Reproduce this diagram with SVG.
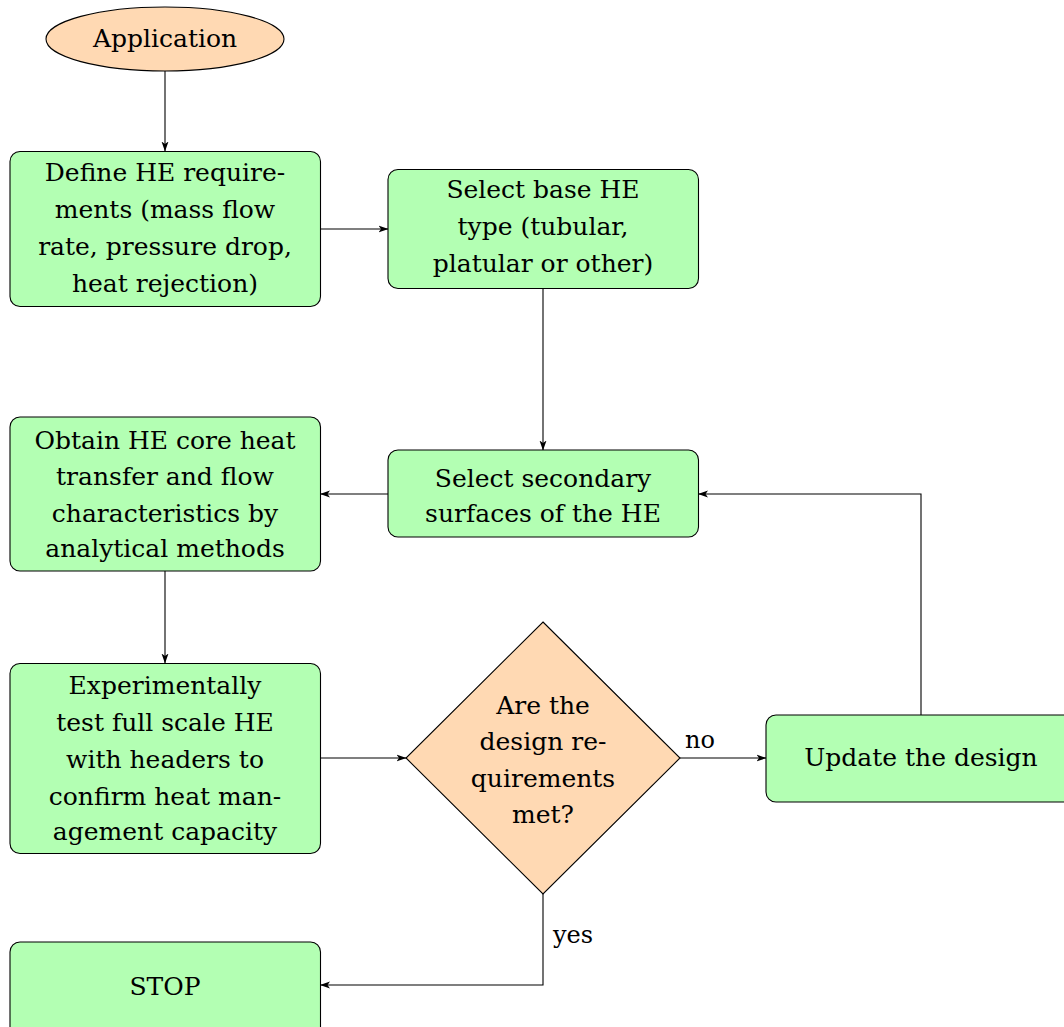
<svg xmlns="http://www.w3.org/2000/svg" width="1064" height="1027" viewBox="0 0 1064 1027">
<style>
  .box { fill: #b3ffb3; stroke: #000; stroke-width: 1.1; }
  .dec { fill: #ffd9b3; stroke: #000; stroke-width: 1.1; }
  text { font-family: 'DejaVu Serif', 'Liberation Serif', serif; fill: #000; }
  .t { font-size: 25px; text-anchor: middle; }
  .lbl { font-size: 24px; }
  .edge { fill: none; stroke: #000; stroke-width: 1.1; marker-end: url(#arr); }
</style>
<defs>
  <marker id="arr" viewBox="0 0 10 8" refX="9.5" refY="4" markerWidth="10" markerHeight="8" markerUnits="userSpaceOnUse" orient="auto">
    <path d="M0,0.5 L10,4 L0,7.5 L2.5,4 Z" fill="#000"/>
  </marker>
</defs>
<rect width="1064" height="1027" fill="#fff"/>

<g id="connectors">
  <path class="edge" d="M165,71 L165,151"/>
  <path class="edge" d="M320.5,229 L388,229"/>
  <path class="edge" d="M543,288.5 L543,450"/>
  <path class="edge" d="M388,494 L320.5,494"/>
  <path class="edge" d="M165,571 L165,663"/>
  <path class="edge" d="M320.5,758 L406,758"/>
  <path class="edge" d="M680,758 L766,758"/>
  <path class="edge" d="M921,715 L921,494 L698.5,494"/>
  <path class="edge" d="M543,894 L543,985 L320.5,985"/>
  <text class="lbl" x="685" y="748">no</text>
  <text class="lbl" x="553" y="943">yes</text>
</g>

<g id="application">
  <ellipse class="dec" cx="165" cy="39" rx="119" ry="32"/>
  <text class="t" x="165" y="47">Application</text>
</g>

<g id="define">
  <rect class="box" x="10" y="151.5" width="310.5" height="155" rx="10"/>
  <text class="t" x="165" y="181">Define HE require-</text>
  <text class="t" x="165" y="218">ments (mass flow</text>
  <text class="t" x="165" y="255">rate, pressure drop,</text>
  <text class="t" x="165" y="292">heat rejection)</text>
</g>

<g id="selectbase">
  <rect class="box" x="388" y="169.5" width="310.5" height="119" rx="10"/>
  <text class="t" x="543" y="198">Select base HE</text>
  <text class="t" x="543" y="235">type (tubular,</text>
  <text class="t" x="543" y="271.5">platular or other)</text>
</g>

<g id="obtain">
  <rect class="box" x="10" y="417" width="310.5" height="154" rx="10"/>
  <text class="t" x="165" y="448.5">Obtain HE core heat</text>
  <text class="t" x="165" y="485">transfer and flow</text>
  <text class="t" x="165" y="521.5">characteristics by</text>
  <text class="t" x="165" y="557">analytical methods</text>
</g>

<g id="selectsecondary">
  <rect class="box" x="388" y="450" width="310.5" height="87" rx="10"/>
  <text class="t" x="543" y="487">Select secondary</text>
  <text class="t" x="543" y="522">surfaces of the HE</text>
</g>

<g id="experiment">
  <rect class="box" x="10" y="663.5" width="310.5" height="190" rx="10"/>
  <text class="t" x="165" y="693.5">Experimentally</text>
  <text class="t" x="165" y="731">test full scale HE</text>
  <text class="t" x="165" y="768">with headers to</text>
  <text class="t" x="165" y="805">confirm heat man-</text>
  <text class="t" x="165" y="839.5">agement capacity</text>
</g>

<g id="decision">
  <polygon class="dec" points="543,622 680,758 543,894 406,758"/>
  <text class="t" x="543" y="713.5">Are the</text>
  <text class="t" x="543" y="750">design re-</text>
  <text class="t" x="543" y="786.5">quirements</text>
  <text class="t" x="543" y="823">met?</text>
</g>

<g id="update">
  <rect class="box" x="766" y="715" width="310" height="87" rx="10"/>
  <text class="t" x="921" y="766">Update the design</text>
</g>

<g id="stop">
  <rect class="box" x="10" y="942" width="310.5" height="95" rx="10"/>
  <text class="t" x="165" y="995">STOP</text>
</g>
</svg>
